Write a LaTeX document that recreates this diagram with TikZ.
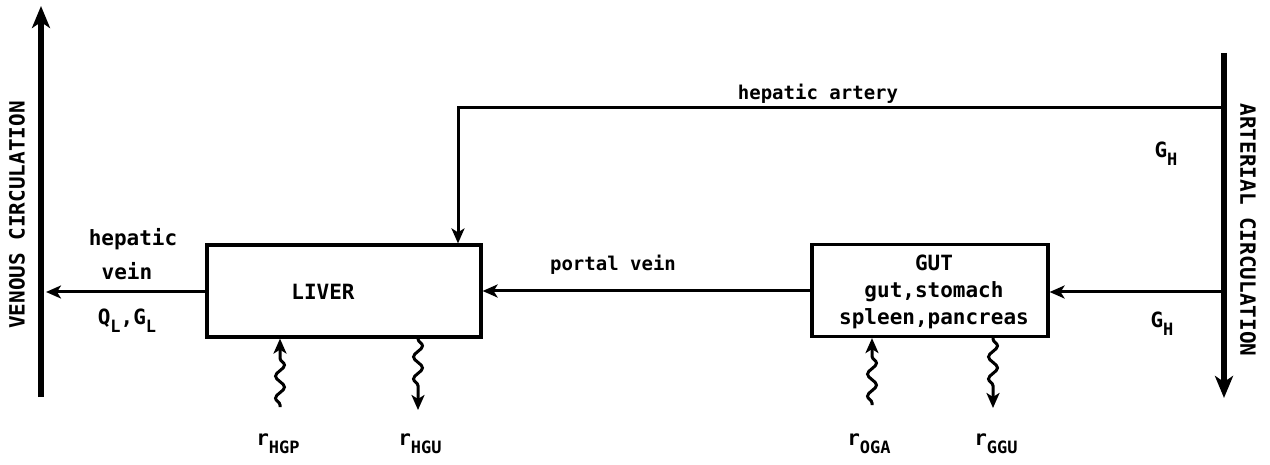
\documentclass[tikz,border=0pt]{standalone}
\usepackage{fontspec}
\setmainfont{DejaVu Sans Mono}
\usetikzlibrary{arrows.meta,decorations.pathmorphing}
\newcommand\sbs[1]{\raisebox{-0.4em}{\fontsize{17}{17}\selectfont #1}}
\begin{document}
\begin{tikzpicture}[x=1pt,y=-1pt,
  every node/.style={font=\fontsize{21}{24}\selectfont\bfseries, inner sep=0pt},
  small/.style={font=\fontsize{19}{22}\selectfont\bfseries},
  boxst/.style={draw, line width=3.2pt, minimum width=#1, minimum height=92pt},
  circline/.style={line width=6.5pt, -{Stealth[length=22pt,width=18pt,inset=6pt]}},
  flow/.style={line width=3pt, -{Stealth[length=15pt,width=13pt,inset=4pt]}},
  wavy/.style={line width=3pt, -{Stealth[length=15pt,width=13pt,inset=4pt]},
    decorate, decoration={snake, amplitude=4.5pt, segment length=22pt, pre length=2pt, post length=15pt}},
  vtext/.style={font=\fontsize{21}{24}\selectfont\bfseries}
]
\useasboundingbox (0,0) rectangle (1270,465);
% circulation lines
\coordinate (vbot) at (41,397);
\coordinate (vtop) at (41,6);
\draw[circline] (vbot) -- (vtop);
\coordinate (atop) at (1224,53);
\coordinate (abot) at (1224,398);
\draw[circline] (atop) -- (abot);
\node[vtext, rotate=90] (vlab) at (17,215) {VENOUS CIRCULATION};
\node[vtext, rotate=-90] (alab) at (1248,230) {ARTERIAL CIRCULATION};
% boxes
\node[boxst=274pt] (liver) at (344,291) {};
\node (livertxt) at (323,292) {LIVER};
\node[boxst=236pt] (gut) at (930,290.5) {};
\node[align=center] (guttxt) at (934,292) {GUT\\[3pt]gut,stomach\\[3pt]spleen,pancreas};
% hepatic vein
\coordinate (hvend) at (46,292);
\draw[flow] (liver.west |- hvend) -- (hvend);
\node (hvlab1) at (133,239) {hepatic};
\node (hvlab2) at (127,271) {vein};
\node (hvlab3) at (127,321) {Q\sbs{L},G\sbs{L}};
% hepatic artery
\coordinate (hastart) at (1222,108);
\coordinate (hacorner) at (458,108);
\draw[flow] (hastart) -- (hacorner) -- (hacorner |- liver.north);
\node[small] (halab) at (818,94) {hepatic artery};
\node (gh1) at (1166,154) {G\sbs{H}};
% portal vein
\draw[flow] (gut.west |- 0,291) -- (liver.east |- 0,291);
\node[small] (pvlab) at (613,265) {portal vein};
% arterial to gut
\coordinate (gutin) at (1222,292);
\draw[flow] (gutin) -- (gut.east |- gutin);
\node (gh2) at (1162,324) {G\sbs{H}};
% wavy arrows
\coordinate (hgp) at (280,407);
\draw[wavy] (hgp) -- (hgp |- liver.south);
\coordinate (hgu) at (418,337);
\draw[wavy] (hgu) -- (418,410);
\coordinate (oga) at (872,405);
\draw[wavy] (oga) -- (oga |- gut.south);
\coordinate (ggu) at (993,337);
\draw[wavy] (ggu) -- (993,408);
\node (rhgp) at (278,444) {r\sbs{HGP}};
\node (rhgu) at (420,444) {r\sbs{HGU}};
\node (roga) at (869,444) {r\sbs{OGA}};
\node (rggu) at (996,444) {r\sbs{GGU}};
\end{tikzpicture}
\end{document}
